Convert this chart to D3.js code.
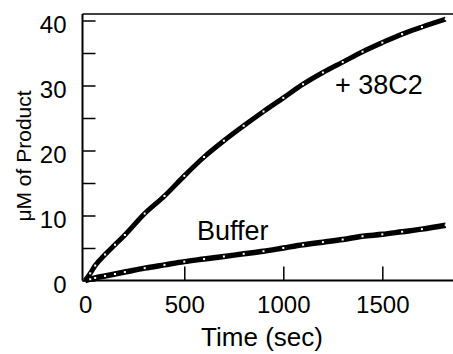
<!DOCTYPE html>
<html>
<head>
<meta charset="utf-8">
<script src="https://cdn.jsdelivr.net/npm/d3@7"></script>
<style>
  html, body { margin: 0; padding: 0; background: #fff; }
  svg { display: block; }
  text { font-family: "Liberation Sans", Arial, Helvetica, sans-serif; fill: #000; }
</style>
</head>
<body>
<svg id="chart" width="453" height="354"></svg>
<script>
// ---- data ----
const timeSec = [0, 25, 50, 100, 150, 200, 300, 400, 500, 600, 700, 800, 900, 1000, 1100, 1200, 1300, 1400, 1500, 1600, 1700, 1820];
const product38C2 = [0, 1.1, 2.3, 4.0, 5.5, 7.0, 10.3, 13.0, 16.1, 19.0, 21.5, 23.8, 26.0, 28.1, 30.2, 32.0, 33.6, 35.2, 36.6, 37.9, 39.0, 40.2];
const productBuffer = [0, 0.2, 0.4, 0.7, 1.0, 1.3, 1.9, 2.4, 2.9, 3.3, 3.7, 4.1, 4.5, 5.0, 5.5, 5.9, 6.3, 6.8, 7.1, 7.5, 7.9, 8.5];
const xTicks = [0, 500, 1000, 1500];
const yTicks = [0, 10, 20, 30, 40];
const yMinorTicks = [5, 15, 25, 35];
const seriesLabels = ["+ 38C2", "Buffer"];
const xTitle = "Time (sec)";
const yTitle = "\u03bcM of Product";

const svg = d3.select("#chart");
const x = d3.scaleLinear().domain([-14, 1860]).range([82.5, 453.6]);
const y = d3.scaleLinear().domain([0, 41]).range([280.5, 14]);

// frame lines (left, top, bottom)
svg.append("line").attr("x1", x(-14)).attr("x2", x(-14)).attr("y1", y(41)).attr("y2", y(0))
  .attr("stroke", "#000").attr("stroke-width", 2);
svg.append("line").attr("x1", x(-14)).attr("x2", 453).attr("y1", y(41)).attr("y2", y(41))
  .attr("stroke", "#000").attr("stroke-width", 1.6);
svg.append("line").attr("x1", x(-14)).attr("x2", 453).attr("y1", y(0)).attr("y2", y(0))
  .attr("stroke", "#000").attr("stroke-width", 2);

// y axis
const yAxis = d3.axisLeft(y).tickValues(yTicks).tickSizeInner(-13).tickSizeOuter(0).tickPadding(16)
  .tickFormat(d3.format("d"));
const gy = svg.append("g").attr("transform", `translate(${x(-14)},0)`).call(yAxis);
gy.select(".domain").remove();
gy.selectAll("line").attr("stroke", "#000").attr("stroke-width", 1.5);
gy.selectAll("text").attr("font-size", 24).attr("dy", "0.5em");
const yMinor = d3.axisLeft(y).tickValues(yMinorTicks).tickSizeInner(-13).tickSizeOuter(0).tickFormat("");
const gym = svg.append("g").attr("transform", `translate(${x(-14)},0)`).call(yMinor);
gym.select(".domain").remove();
gym.selectAll("line").attr("stroke", "#000").attr("stroke-width", 1.5);

// x axis
const xAxis = d3.axisBottom(x).tickValues(xTicks).tickSizeInner(-14).tickSizeOuter(0).tickPadding(15)
  .tickFormat(d3.format("d"));
const gx = svg.append("g").attr("transform", `translate(0,${y(0)})`).call(xAxis);
gx.select(".domain").remove();
gx.selectAll("line").attr("stroke", "#000").attr("stroke-width", 1.5);
gx.selectAll(".tick").filter(d => d === 0).select("line").remove();
gx.selectAll("text").attr("font-size", 24);

// series
const line = d3.line().x(d => x(d[0])).y(d => y(d[1])).curve(d3.curveMonotoneX);
const s1 = timeSec.map((t, i) => [t, product38C2[i]]);
const s2 = timeSec.map((t, i) => [t, productBuffer[i]]);
[s1, s2].forEach((s, k) => {
  svg.append("path").datum(s).attr("d", line).attr("fill", "none")
    .attr("stroke", "#000").attr("stroke-width", k === 0 ? 5 : 5.5).attr("stroke-linejoin", "round");
  svg.append("g").selectAll("rect").data(s.slice(1)).join("rect")
    .attr("x", d => x(d[0]) - 1).attr("y", d => y(d[1]) - 1).attr("width", 2).attr("height", 2)
    .attr("fill", "#fff");
});

// labels
svg.append("text").attr("x", 335).attr("y", 94).attr("font-size", 27).text(seriesLabels[0]);
svg.append("text").attr("x", 197).attr("y", 240).attr("font-size", 27).text(seriesLabels[1]);
svg.append("text").attr("x", 262).attr("y", 346).attr("font-size", 26).attr("text-anchor", "middle").text(xTitle);
svg.append("text").attr("transform", "translate(31,156) rotate(-90)").attr("font-size", 21)
  .attr("text-anchor", "middle").text(yTitle);
</script>
</body>
</html>
